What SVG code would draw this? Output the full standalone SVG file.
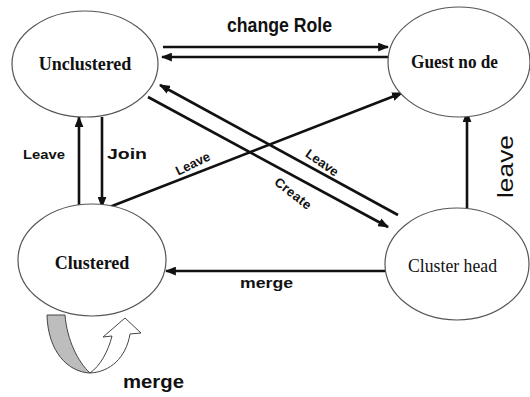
<svg xmlns="http://www.w3.org/2000/svg" width="530" height="397" viewBox="0 0 530 397">
<style>
.node ellipse{fill:#fff;stroke:#555;stroke-width:1.2}
.ser{font-family:"Liberation Serif","Times New Roman",serif;font-size:18px;fill:#111}
.lbl{font-family:"Liberation Sans",Arial,sans-serif;font-weight:bold;fill:#111}
.thin{font-family:"Liberation Sans",Arial,sans-serif;font-weight:normal;fill:#111}
.edge{stroke:#111;stroke-width:2.6;fill:none}
</style>
<defs>
<marker id="ah" viewBox="0 0 10 8" refX="9" refY="4" markerWidth="11" markerHeight="9" markerUnits="userSpaceOnUse" orient="auto">
<path d="M0,0 L10,4 L0,8 Z" fill="#111"/>
</marker>
</defs>
<rect width="530" height="397" fill="#fff"/>

<g id="connectors">
<line class="edge" x1="163" y1="47" x2="388" y2="47" marker-end="url(#ah)"/>
<line class="edge" x1="388" y1="57" x2="162" y2="57" marker-end="url(#ah)"/>
<line class="edge" x1="79" y1="207" x2="79" y2="117" marker-end="url(#ah)"/>
<line class="edge" x1="102" y1="117" x2="102" y2="207" marker-end="url(#ah)"/>
<line class="edge" x1="107" y1="208" x2="402" y2="93" marker-end="url(#ah)"/>
<line class="edge" x1="398" y1="215" x2="160" y2="85" marker-end="url(#ah)"/>
<line class="edge" x1="148" y1="97" x2="388" y2="227" marker-end="url(#ah)"/>
<line class="edge" x1="467" y1="208" x2="467" y2="112" marker-end="url(#ah)"/>
<line class="edge" x1="385" y1="271" x2="166" y2="271" marker-end="url(#ah)"/>
<path d="M47,315 L65,315 C67,340 78,362 90,373 C68,372 48,352 47,315 Z" fill="#bdbdbd" stroke="#444" stroke-width="1"/>
<path d="M90,373 C110,372 126,358 130,334 L141,333 L125,318 L103,337 L112,336 C108,352 100,366 90,373 Z" fill="#fff" stroke="#444" stroke-width="1"/>
</g>

<g id="unclustered" class="node">
<ellipse cx="85" cy="64" rx="73" ry="53"/>
<text class="ser" x="85" y="70" text-anchor="middle" font-weight="bold">Unclustered</text>
</g>
<g id="guest" class="node">
<ellipse cx="459" cy="62" rx="71" ry="55"/>
<text class="ser" x="411" y="68" font-size="17" font-weight="bold" textLength="87" lengthAdjust="spacingAndGlyphs">Guest no de</text>
</g>
<g id="clustered" class="node">
<ellipse cx="92" cy="260" rx="74" ry="56"/>
<text class="ser" x="92" y="269" text-anchor="middle" font-weight="bold">Clustered</text>
</g>
<g id="clusterhead" class="node">
<ellipse cx="457" cy="264" rx="72" ry="56"/>
<text class="ser" x="408" y="272" textLength="89" lengthAdjust="spacingAndGlyphs">Cluster head</text>
</g>

<g id="labels">
<text class="lbl" x="227" y="32" font-size="20" textLength="105" lengthAdjust="spacingAndGlyphs">change Role</text>
<text class="lbl" x="23" y="159" font-size="13" textLength="42" lengthAdjust="spacingAndGlyphs">Leave</text>
<text class="lbl" x="107" y="159" font-size="15" textLength="40" lengthAdjust="spacingAndGlyphs">Join</text>
<text class="lbl" font-size="13" text-anchor="middle" transform="translate(193,164) rotate(-26)" y="4">Leave</text>
<text class="lbl" font-size="13" text-anchor="middle" transform="translate(322,163) rotate(35)" y="4">Leave</text>
<text class="lbl" font-size="13" text-anchor="middle" transform="translate(293,194) rotate(38)" y="4" letter-spacing="0.5">Create</text>
<text class="lbl" x="240" y="288" font-size="14" textLength="53" lengthAdjust="spacingAndGlyphs">merge</text>
<text class="lbl" x="123" y="388" font-size="19" textLength="61" lengthAdjust="spacingAndGlyphs">merge</text>
<text class="thin" font-size="22" textLength="63" lengthAdjust="spacingAndGlyphs" transform="translate(513,198) rotate(-90)">leave</text>
</g>
</svg>
